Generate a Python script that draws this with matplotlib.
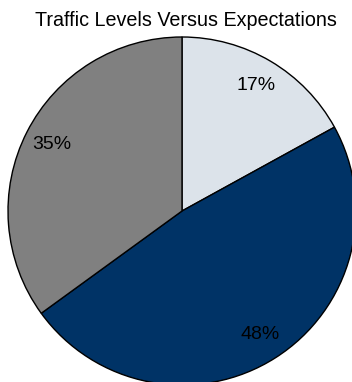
import matplotlib
matplotlib.use("Agg")
import matplotlib.pyplot as plt

plt.rcParams['font.family'] = ['Liberation Sans', 'DejaVu Sans']

title = "Traffic Levels Versus Expectations"
categories = ["Above", "Below", "Meeting"]
shares = [17, 48, 35]
colors = ["#dce3ea", "#003366", "#808080"]

fig = plt.figure(figsize=(3.52, 3.82), dpi=100)
ax = fig.add_axes([8 / 352, -3 / 382, 348 / 352, 348 / 382])
wedges, texts, autotexts = ax.pie(
    shares, colors=colors, startangle=90, counterclock=False,
    autopct=lambda p: f"{p:.0f}%", pctdistance=0.84,
    wedgeprops=dict(edgecolor="black", linewidth=1.0),
    textprops=dict(fontsize=14, color="black"))
for t in autotexts:
    t.set_color("black")
ax.set_xlim(-1, 1)
ax.set_ylim(-1, 1)
ax.set_aspect("equal")
ax.axis("off")
fig.text(185.5 / 352, 1 - 21 / 382, title, ha="center", va="center", fontsize=14.2)
fig.savefig("out.png", dpi=100)
